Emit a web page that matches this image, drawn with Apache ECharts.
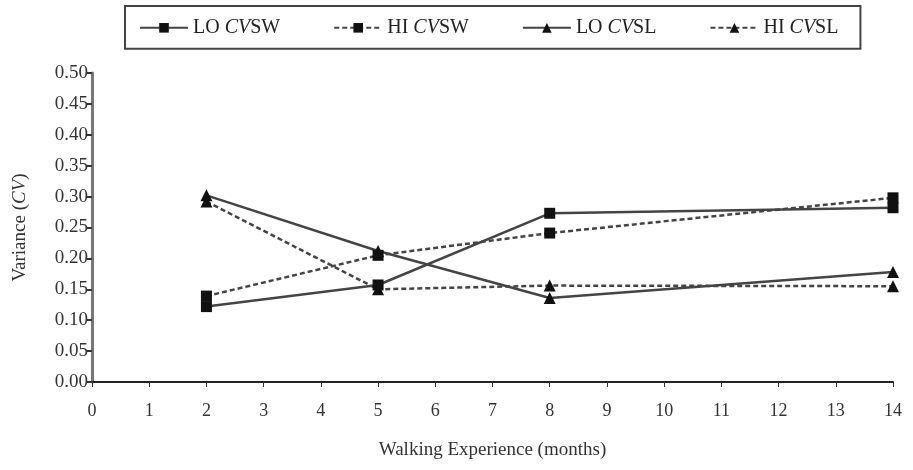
<!DOCTYPE html>
<html>
<head>
	<title>Variance</title>
	<script src="https://cdn.jsdelivr.net/npm/echarts@6/dist/echarts.min.js"></script>
</head>
<body style="margin:0">
	<div id="main" style="width: 913px;height:470px;"></div>
	<script type="text/javascript">
	var months = [2, 5, 8, 14];
	var loCVSW = [0.122, 0.157, 0.273, 0.282];
	var hiCVSW = [0.139, 0.205, 0.241, 0.298];
	var loCVSL = [0.302, 0.212, 0.136, 0.178];
	var hiCVSL = [0.292, 0.150, 0.156, 0.155];
	var names = ['LO CVSW', 'HI CVSW', 'LO CVSL', 'HI CVSL'];

	var myChart = echarts.init(document.getElementById('main'));
	var font = 'Liberation Serif';

	function pairs(ys) {
		return months.map(function (m, i) { return [m, ys[i]]; });
	}
	function line(name, ys, symbol, dashed) {
		return {
			name: name,
			type: 'line',
			data: pairs(ys),
			symbol: symbol,
			symbolSize: symbol === 'rect' ? 11 : 12,
			itemStyle: { color: '#111' },
			lineStyle: { color: '#444', width: 2.5, type: dashed ? [5, 3] : 'solid' }
		};
	}

	var option = {
		animation: false,
		textStyle: { fontFamily: font },
		legend: {
			top: 6,
			left: 125,
			padding: [6, 22, 5, 14],
			borderColor: '#444',
			borderWidth: 2,
			itemWidth: 48,
			itemHeight: 12,
			itemGap: 53,
			data: names,
			formatter: function (n) {
				var p = n.split(' ');
				return '{n|' + p[0] + ' }{i|CV}{n|' + p[1].slice(2) + '}';
			},
			textStyle: {
				rich: {
					n: { fontFamily: font, fontSize: 20, color: '#222' },
					i: { fontFamily: font, fontSize: 20, fontStyle: 'italic', color: '#222' }
				}
			}
		},
		grid: { left: 92, right: 20, top: 73, bottom: 88, outerBoundsMode: 'none' },
		xAxis: {
			type: 'value',
			min: 0, max: 14, interval: 1,
			name: 'Walking Experience (months)',
			nameLocation: 'middle',
			nameGap: 54,
			nameTextStyle: { fontFamily: font, fontSize: 19, color: '#333' },
			axisLine: { lineStyle: { color: '#222', width: 2 } },
			axisTick: { inside: false, length: 5, lineStyle: { color: '#333' } },
			axisLabel: { fontFamily: font, fontSize: 18, color: '#333', margin: 16 },
			splitLine: { show: false }
		},
		yAxis: {
			type: 'value',
			min: 0, max: 0.5, interval: 0.05,
			name: '{n|Variance (}{i|CV}{n|)}',
			nameLocation: 'middle',
			nameRotate: 90,
			nameGap: 57,
			nameTextStyle: {
				rich: {
					n: { fontFamily: font, fontSize: 19, color: '#333' },
					i: { fontFamily: font, fontSize: 19, fontStyle: 'italic', color: '#333' }
				}
			},
			axisLine: { show: true, lineStyle: { color: '#777', width: 3 } },
			axisTick: { show: true, length: 5, lineStyle: { color: '#333', width: 2 } },
			axisLabel: {
				fontFamily: font, fontSize: 19, color: '#333', margin: 4,
				formatter: function (v) { return v.toFixed(2); }
			},
			splitLine: { show: false }
		},
		series: [
			line(names[0], loCVSW, 'rect', false),
			line(names[1], hiCVSW, 'rect', true),
			line(names[2], loCVSL, 'triangle', false),
			line(names[3], hiCVSL, 'triangle', true)
		]
	};
	myChart.setOption(option);
	</script>
</body>
</html>
